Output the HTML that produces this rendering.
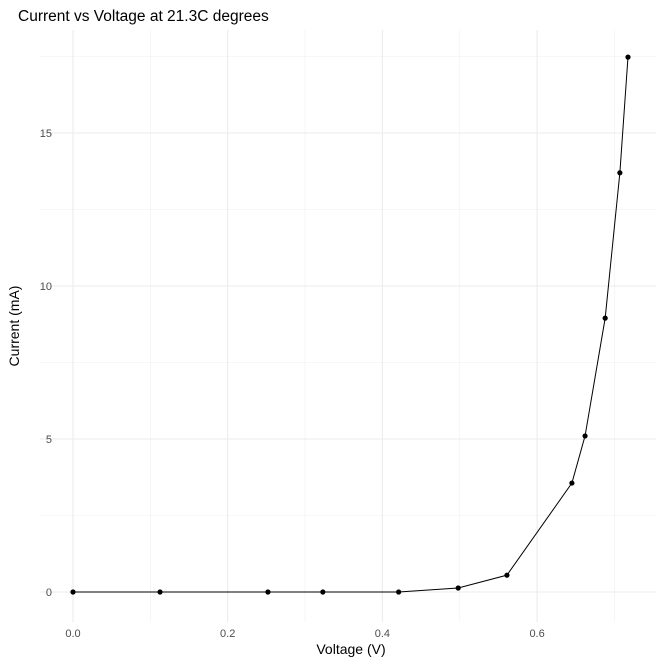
<!DOCTYPE html>
<html><head><meta charset="utf-8"><style>
body{margin:0;background:#fff;}
svg{display:block;font-family:"Liberation Sans",sans-serif;}
</style></head><body>
<svg id="chart" width="664" height="664">
<text x="18" y="21" font-size="15.5" fill="#000">Current vs Voltage at 21.3C degrees</text>
<g id="grid"></g>
<g id="ticks"></g>
<g id="marks"></g>
<text x="351" y="654" font-size="14" text-anchor="middle" fill="#000">Voltage (V)</text>
<text x="19" y="326" font-size="14" text-anchor="middle" fill="#000" transform="rotate(-90 19 326)">Current (mA)</text>
</svg>
<script>
const voltage=[0,0.1125,0.252,0.323,0.421,0.498,0.561,0.645,0.662,0.688,0.707,0.7175];
const current=[0,0,0,0,0,0.13,0.55,3.56,5.1,8.95,13.7,17.48];
const xTicks=[0,0.2,0.4,0.6];
const xTickLabels=["0.0","0.2","0.4","0.6"];
const yTicks=[0,5,10,15];
const yTickLabels=["0","5","10","15"];
const xMinor=[0.1,0.3,0.5,0.7];
const yMinor=[2.5,7.5,12.5,17.5];
const ns="http://www.w3.org/2000/svg";
const X=v=>73+v*773.5;
const Y=v=>592-v*30.6;
const L=40,R=656,T=30,B=622;
function mk(tag,attrs,parent){const e=document.createElementNS(ns,tag);for(const k in attrs)e.setAttribute(k,attrs[k]);parent.appendChild(e);return e;}
const grid=document.getElementById('grid'),ticks=document.getElementById('ticks'),marks=document.getElementById('marks');
xMinor.forEach(v=>{const e=mk('line',{x1:X(v),x2:X(v),y1:T,y2:B,stroke:'#f0f0f0','stroke-width':0.6},grid);

});
yMinor.forEach(v=>{const e=mk('line',{x1:L,x2:R,y1:Y(v),y2:Y(v),stroke:'#f0f0f0','stroke-width':0.6},grid);

});
xTicks.forEach((v,i)=>{const e=mk('line',{x1:X(v),x2:X(v),y1:T,y2:B,stroke:'#ebebeb','stroke-width':1.1},grid);


const t=mk('text',{x:X(v),y:637,'font-size':11,'text-anchor':'middle',fill:'#4d4d4d'},ticks);t.textContent=xTickLabels[i];

});
yTicks.forEach((v,i)=>{const e=mk('line',{x1:L,x2:R,y1:Y(v),y2:Y(v),stroke:'#ebebeb','stroke-width':1.1},grid);


const t=mk('text',{x:52,y:Y(v)+4,'font-size':11,'text-anchor':'end',fill:'#4d4d4d'},ticks);t.textContent=yTickLabels[i];

});
const pts=voltage.map((v,i)=>X(v)+','+Y(current[i])).join(' ');
const pl=mk('polyline',{points:pts,fill:'none',stroke:'#000','stroke-width':1},marks);


voltage.forEach((v,i)=>{const c=mk('circle',{cx:X(v),cy:Y(current[i]),r:2.6,fill:'#000'},marks);

});
</script>
</body></html>
